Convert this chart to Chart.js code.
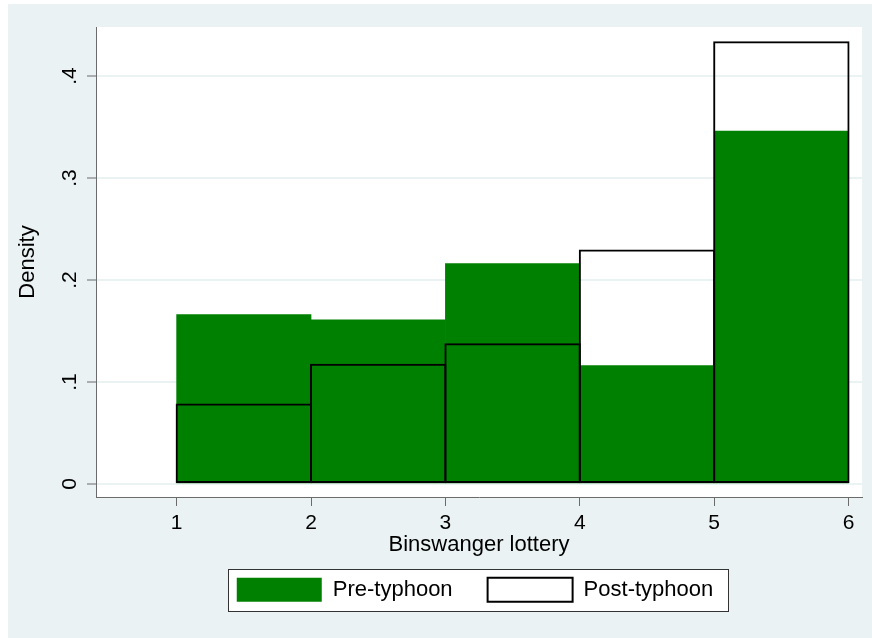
<!DOCTYPE html>
<html>
<head>
<meta charset="utf-8">
<title>Binswanger lottery density</title>
<script src="https://cdn.jsdelivr.net/npm/chart.js@4.4.1/dist/chart.umd.min.js"></script>
<style>
  html, body { margin: 0; padding: 0; background: #ffffff; }
  #wrap { width: 872px; height: 638px; }
</style>
</head>
<body>
<div id="wrap"><canvas id="hist" width="872" height="638"></canvas></div>
<script>
// Histogram bins of the Binswanger lottery choice, unit-wide bins from 1 to 6
const binEdges = [1, 2, 3, 4, 5, 6];
const seriesNames = ['Pre-typhoon', 'Post-typhoon'];
const preTyphoon = [0.166, 0.161, 0.216, 0.116, 0.346];
const postTyphoon = [0.079, 0.118, 0.138, 0.230, 0.434];
const xTickLabels = ['1', '2', '3', '4', '5', '6'];
const yTickValues = [0, 0.1, 0.2, 0.3, 0.4];
const yTickLabels = ['0', '.1', '.2', '.3', '.4'];

// each bar sits at the middle of its bin
const binCenters = binEdges.slice(0, -1).map((e, i) => (e + binEdges[i + 1]) / 2);
const toPoints = vals => vals.map((v, i) => ({ x: binCenters[i], y: v }));

const FONT = "'Liberation Sans', Arial, Helvetica, sans-serif";
const BG = '#eaf2f3';
const AXIS = '#6b6b6b';
Chart.defaults.font.family = FONT;
Chart.defaults.color = '#000000';

// graph region, white plot region and the framed legend panel
const backdrop = {
  id: 'backdrop',
  beforeDraw(chart) {
    const { ctx, chartArea: a, width, height } = chart;
    ctx.save();
    ctx.fillStyle = '#ffffff';
    ctx.fillRect(0, 0, width, height);
    ctx.fillStyle = BG;
    ctx.fillRect(8, 4, width - 8, height - 4);
    ctx.fillStyle = '#ffffff';
    ctx.fillRect(a.left, a.top, a.right - a.left, a.bottom - a.top);
    const hb = chart.legend && chart.legend.legendHitBoxes;
    if (hb && hb.length) {
      const first = hb[0], last = hb[hb.length - 1];
      const x0 = Math.round(first.left - 9), x1 = Math.round(last.left + last.width + 15);
      const y0 = Math.round(first.top - 9), y1 = Math.round(first.top + first.height + 9);
      ctx.fillStyle = '#ffffff';
      ctx.fillRect(x0, y0, x1 - x0, y1 - y0);
      ctx.strokeStyle = '#333333';
      ctx.lineWidth = 1;
      ctx.strokeRect(x0 + 0.5, y0 + 0.5, x1 - x0, y1 - y0);
    }
    ctx.restore();
  }
};

// tuck the legend up under the axis title
const legendPlacement = {
  id: 'legendPlacement',
  afterLayout(chart) {
    const lg = chart.legend;
    if (!lg) return;
    const dx = -4, dy = -15.4;
    lg.left += dx; lg.right += dx;
    lg.top += dy; lg.bottom += dy;
  }
};

new Chart(document.getElementById('hist'), {
  type: 'bar',
  data: {
    datasets: [
      {
        label: seriesNames[0],
        data: toPoints(preTyphoon),
        backgroundColor: '#008000',
        borderWidth: 0,
        barPercentage: 1,
        categoryPercentage: 1,
        grouped: false,
        order: 1
      },
      {
        label: seriesNames[1],
        data: toPoints(postTyphoon),
        backgroundColor: 'rgba(255,255,255,0)',
        borderColor: '#000000',
        borderWidth: 2,
        borderSkipped: false,
        barPercentage: 136 / 134,
        categoryPercentage: 1,
        inflateAmount: 0,
        grouped: false,
        order: 0
      }
    ]
  },
  options: {
    responsive: false,
    animation: false,
    devicePixelRatio: 1,
    layout: { padding: { top: 27, left: 0, right: 10, bottom: 10.8 } },
    plugins: {
      tooltip: { enabled: false },
      legend: {
        position: 'bottom',
        fullSize: false,
        align: 'center',
        labels: {
          boxWidth: 85,
          boxHeight: 24,
          padding: 35,
          color: '#000000',
          font: { size: 22 },
          sort: (a, b) => a.datasetIndex - b.datasetIndex
        }
      }
    },
    scales: {
      x: {
        type: 'linear',
        min: 0.4,
        max: 6.1,
        offset: false,
        afterBuildTicks: s => { s.ticks = binEdges.map(v => ({ value: v })); },
        grid: { offset: false, drawOnChartArea: false, tickLength: 9, tickColor: AXIS, tickWidth: 1 },
        border: { color: AXIS, width: 1 },
        ticks: {
          autoSkip: false, maxRotation: 0, minRotation: 0, padding: 5,
          font: { size: 21 }, color: '#000000',
          callback: (v, i) => xTickLabels[i]
        },
        title: { display: true, text: 'Binswanger lottery', color: '#000000', font: { size: 22 }, padding: { top: 0, bottom: 0 } },
        afterFit: s => { s.height = 61.2; }
      },
      y: {
        type: 'linear',
        min: -0.01275,
        max: 0.448,
        afterBuildTicks: s => { s.ticks = yTickValues.map(v => ({ value: v })); },
        grid: { color: BG, lineWidth: 2, tickLength: 9, tickColor: AXIS, tickWidth: 1 },
        border: { color: AXIS, width: 1 },
        ticks: {
          autoSkip: false, minRotation: 90, maxRotation: 90, crossAlign: 'center', padding: 8,
          font: { size: 21 }, color: '#000000',
          callback: (v, i) => yTickLabels[i]
        },
        title: { display: true, text: 'Density', color: '#000000', font: { size: 22 }, padding: { top: 15, bottom: 0 } },
        afterFit: s => { s.width = 96; }
      }
    }
  },
  plugins: [backdrop, legendPlacement]
});
</script>
</body>
</html>
